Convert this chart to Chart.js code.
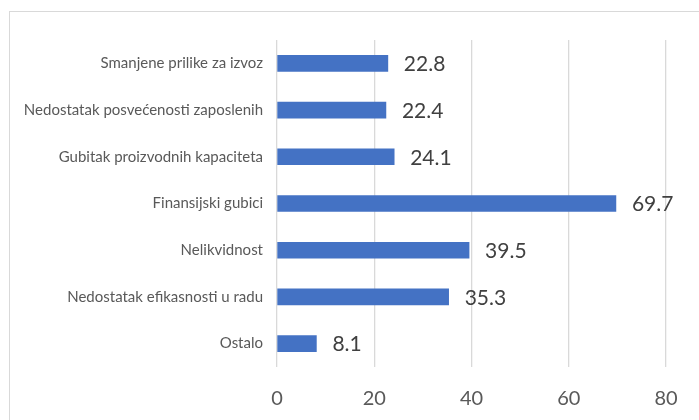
<!DOCTYPE html>
<html>
<head>
<meta charset="utf-8">
<script src="https://cdn.jsdelivr.net/npm/chart.js@4/dist/chart.umd.min.js"></script>
<style>
  html, body { margin: 0; padding: 0; background: #fff; }
  #frame {
    position: absolute; left: 9px; top: 11px; width: 720px; height: 440px;
    border: 1px solid #d9d9d9; box-sizing: border-box;
  }
  #wrap { position: absolute; left: 0; top: 0; width: 699px; height: 420px; }
</style>
</head>
<body>
<div id="frame"></div>
<div id="wrap"><canvas id="barChart"></canvas></div>
<script>
const categories = [
  "Smanjene prilike za izvoz",
  "Nedostatak posvećenosti zaposlenih",
  "Gubitak proizvodnih kapaciteta",
  "Finansijski gubici",
  "Nelikvidnost",
  "Nedostatak efikasnosti u radu",
  "Ostalo",
];
const values = [22.8, 22.4, 24.1, 69.7, 39.5, 35.3, 8.1];
const xTicks = [0, 20, 40, 60, 80];

// etikete s vrijednostima desno od traka
const valueLabels = {
  id: "valueLabels",
  afterDatasetsDraw(chart) {
    const ctx = chart.ctx;
    const meta = chart.getDatasetMeta(0);
    ctx.save();
    ctx.font = "21px Lato";
    ctx.fillStyle = "#404040";
    ctx.textAlign = "left";
    ctx.textBaseline = "middle";
    meta.data.forEach((bar, i) => {
      ctx.fillText(values[i].toFixed(1), bar.x + 16, bar.y + 1);
    });
    ctx.restore();
  },
};

const ctxBar = document.getElementById("barChart").getContext("2d");
new Chart(ctxBar, {
  type: "bar",
  data: {
    labels: categories,
    datasets: [
      {
        data: values,
        backgroundColor: "#4472C4",
        barThickness: 16,
      },
    ],
  },
  options: {
    indexAxis: "y",
    responsive: true,
    maintainAspectRatio: false,
    animation: false,
    layout: { padding: { top: 40, right: 33, left: 0, bottom: 0 } },
    plugins: { legend: { display: false }, tooltip: { enabled: false } },
    scales: {
      x: {
        min: 0,
        max: 80,
        afterBuildTicks: (scale) => {
          scale.ticks = xTicks.map((v) => ({ value: v }));
        },
        afterFit: (scale) => {
          scale.height = 53;
        },
        grid: { color: "#d9d9d9", lineWidth: 1.3, drawTicks: false },
        border: { display: false },
        ticks: { color: "#595959", font: { family: "Lato", size: 20 }, padding: 20 },
      },
      y: {
        afterFit: (scale) => {
          scale.width = 277;
        },
        grid: { display: false },
        border: { display: false },
        ticks: { color: "#595959", font: { family: "Lato", size: 15 }, padding: 6, autoSkip: false },
      },
    },
  },
  plugins: [valueLabels],
});
</script>
</body>
</html>
